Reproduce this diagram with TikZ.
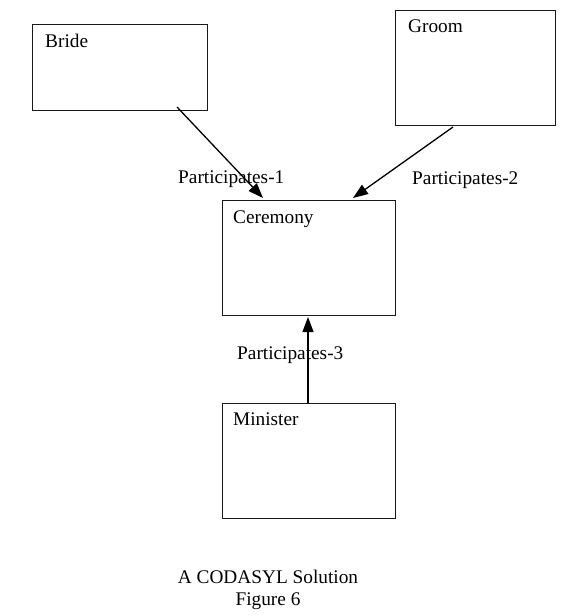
\documentclass[tikz,border=0pt]{standalone}
\usepackage{fontspec}
\setmainfont{Liberation Serif}
\usetikzlibrary{arrows.meta,calc}
\definecolor{cdsInk}{HTML}{000000}
\definecolor{cdsEdge}{HTML}{1A1A1A}
\tikzset{
  cds box/.style={draw=cdsEdge, line width=1pt, anchor=north west, inner sep=0pt},
  cds link/.style={draw=cdsInk, line width=1.3pt, -{Triangle[length=15pt, width=11pt]}},
  cds label/.style={font=\fontsize{19.3}{22}\selectfont, text=cdsInk, anchor=base west, inner sep=0pt},
  cds caption/.style={font=\fontsize{19.3}{22}\selectfont, text=cdsInk, anchor=base, inner sep=0pt},
}

\begin{document}
\begin{tikzpicture}[x=1pt, y=-1pt]
  \useasboundingbox (0,0) rectangle (567,616);
  % Record boxes
  \node[cds box, minimum width=175pt, minimum height=86pt] (bride) at (32,24) {};
  \node[cds box, minimum width=160pt, minimum height=115pt] (groom) at (395,10) {};
  \node[cds box, minimum width=173pt, minimum height=115pt] (ceremony) at (222,200) {};
  \node[cds box, minimum width=173pt, minimum height=115pt] (minister) at (222,403) {};
  % Record names
  \node[cds label] (brideName) at ($(bride.north west)+(13,23)$) {Bride};
  \node[cds label] (groomName) at ($(groom.north west)+(13,22)$) {Groom};
  \node[cds label] (ceremonyName) at ($(ceremony.north west)+(11,23)$) {Ceremony};
  \node[cds label] (ministerName) at ($(minister.north west)+(11,22)$) {Minister};
  % Set connectors
  \draw[cds link] ($(bride.south west)+(145,-4)$) -- ($(ceremony.north west)+(41,-2)$);
  \draw[cds link] ($(groom.south west)+(58,1)$) -- ($(ceremony.north west)+(131,-2)$);
  \draw[cds link] ($(minister.north west)+(86,0)$) -- ($(ceremony.south west)+(86,1)$);
  % Set names
  \node[cds label] (setOne) at (178,183) {Participates-1};
  \node[cds label] (setTwo) at (412,184) {Participates-2};
  \node[cds label] (setThree) at (237,359) {Participates-3};
  % Caption
  \node[cds caption] (capTitle) at (268,583) {A CODASYL Solution};
  \node[cds caption] (capFig) at (268,605) {Figure 6};
\end{tikzpicture}
\end{document}
